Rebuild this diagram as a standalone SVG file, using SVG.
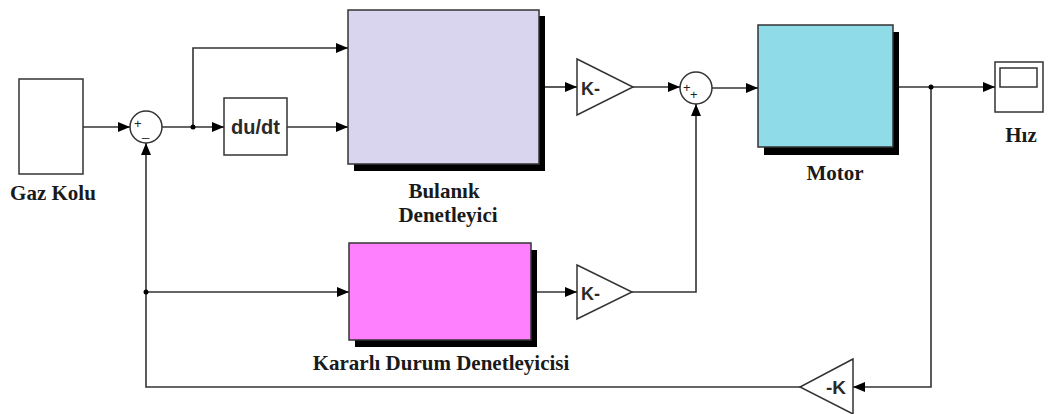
<svg xmlns="http://www.w3.org/2000/svg" width="1055" height="414" viewBox="0 0 1055 414">
<defs>
<marker id="arr" viewBox="0 0 12 10" refX="12" refY="5" markerWidth="12" markerHeight="10" markerUnits="userSpaceOnUse" orient="auto">
<path d="M0,0 L12,5 L0,10 Z" fill="#000"/>
</marker>
</defs>
<style>
.blk{stroke:#333;stroke-width:1.5}
.shadow{fill:#000}
.lbl{font-family:"Liberation Serif","Times New Roman",serif;font-weight:bold;font-size:21px;fill:#1a1a1a;text-anchor:middle}
.blktxt{font-family:"Liberation Sans",Arial,sans-serif;font-weight:bold;fill:#2a2a2a}
.sign{font-family:"Liberation Sans",Arial,sans-serif;font-size:13px;fill:#222}
.wire{fill:none;stroke:#333;stroke-width:1.6}
.dot{fill:#000}
</style>
<rect width="1055" height="414" fill="#fff"/>

<g id="gaz-kolu">
<rect x="19" y="79" width="64" height="95" fill="#fff" class="blk"/>
<text x="53" y="200" class="lbl">Gaz Kolu</text>
</g>

<g id="sum1">
<circle cx="146" cy="127" r="16" fill="#fff" class="blk"/>
<text x="134" y="128" class="sign">+</text>
<text x="142" y="136" class="sign">_</text>
</g>

<g id="dudt">
<rect x="224" y="98" width="63" height="57" fill="#fff" class="blk"/>
<text x="255.5" y="134" class="blktxt" font-size="20" text-anchor="middle">du/dt</text>
</g>

<g id="bulanik">
<rect x="354" y="16" width="191" height="155" class="shadow"/>
<rect x="348" y="10" width="191" height="154" fill="#d9d5ee" class="blk"/>
<text x="444" y="198" class="lbl">Bulanık</text>
<text x="448" y="222" class="lbl">Denetleyici</text>
</g>

<g id="gain1">
<polygon points="577,59 633,87 577,115" fill="#fff" class="blk"/>
<text x="581" y="95" class="blktxt" font-size="18">K-</text>
</g>

<g id="sum2">
<circle cx="696" cy="88" r="16" fill="#fff" class="blk"/>
<text x="683" y="92" class="sign">+</text>
<text x="690" y="99" class="sign">+</text>
</g>

<g id="motor">
<rect x="764" y="32" width="135" height="123" class="shadow"/>
<rect x="758" y="25" width="135" height="122" fill="#8fdbe7" class="blk"/>
<text x="835" y="180" class="lbl">Motor</text>
</g>

<g id="hiz">
<rect x="995" y="62" width="48" height="50" fill="#fff" class="blk"/>
<rect x="1000" y="68" width="37" height="19" fill="#fff" class="blk"/>
<text x="1021" y="142" class="lbl" font-size="19">Hız</text>
</g>

<g id="kararli">
<rect x="355" y="250" width="182" height="97" class="shadow"/>
<rect x="349" y="243" width="182" height="97" fill="#ff80ff" class="blk"/>
<text x="441" y="370" class="lbl">Kararlı Durum Denetleyicisi</text>
</g>

<g id="gain2">
<polygon points="577,265 632,292 577,319" fill="#fff" class="blk"/>
<text x="581" y="300" class="blktxt" font-size="18">K-</text>
</g>

<g id="gain3">
<polygon points="853,359 800,387 853,414" fill="#fff" class="blk"/>
<text x="826" y="394" class="blktxt" font-size="19">-K</text>
</g>

<g id="connectors">
<path class="wire" d="M83,127 H130" marker-end="url(#arr)"/>
<path class="wire" d="M162,127 H224" marker-end="url(#arr)"/>
<path class="wire" d="M193,127 V48 H348" marker-end="url(#arr)"/>
<path class="wire" d="M287,127 H348" marker-end="url(#arr)"/>
<path class="wire" d="M545,87 H577" marker-end="url(#arr)"/>
<path class="wire" d="M633,87 H680" marker-end="url(#arr)"/>
<path class="wire" d="M712,88 H758" marker-end="url(#arr)"/>
<path class="wire" d="M899,87 H995" marker-end="url(#arr)"/>
<path class="wire" d="M931,87 V387 H853" marker-end="url(#arr)"/>
<path class="wire" d="M800,387 H146 V143" marker-end="url(#arr)"/>
<path class="wire" d="M146,292 H349" marker-end="url(#arr)"/>
<path class="wire" d="M537,292 H577" marker-end="url(#arr)"/>
<path class="wire" d="M632,292 H696 V104" marker-end="url(#arr)"/>
<circle class="dot" cx="193" cy="127" r="2.5"/>
<circle class="dot" cx="931" cy="87" r="2.5"/>
<circle class="dot" cx="146" cy="292" r="2.5"/>
</g>
</svg>
